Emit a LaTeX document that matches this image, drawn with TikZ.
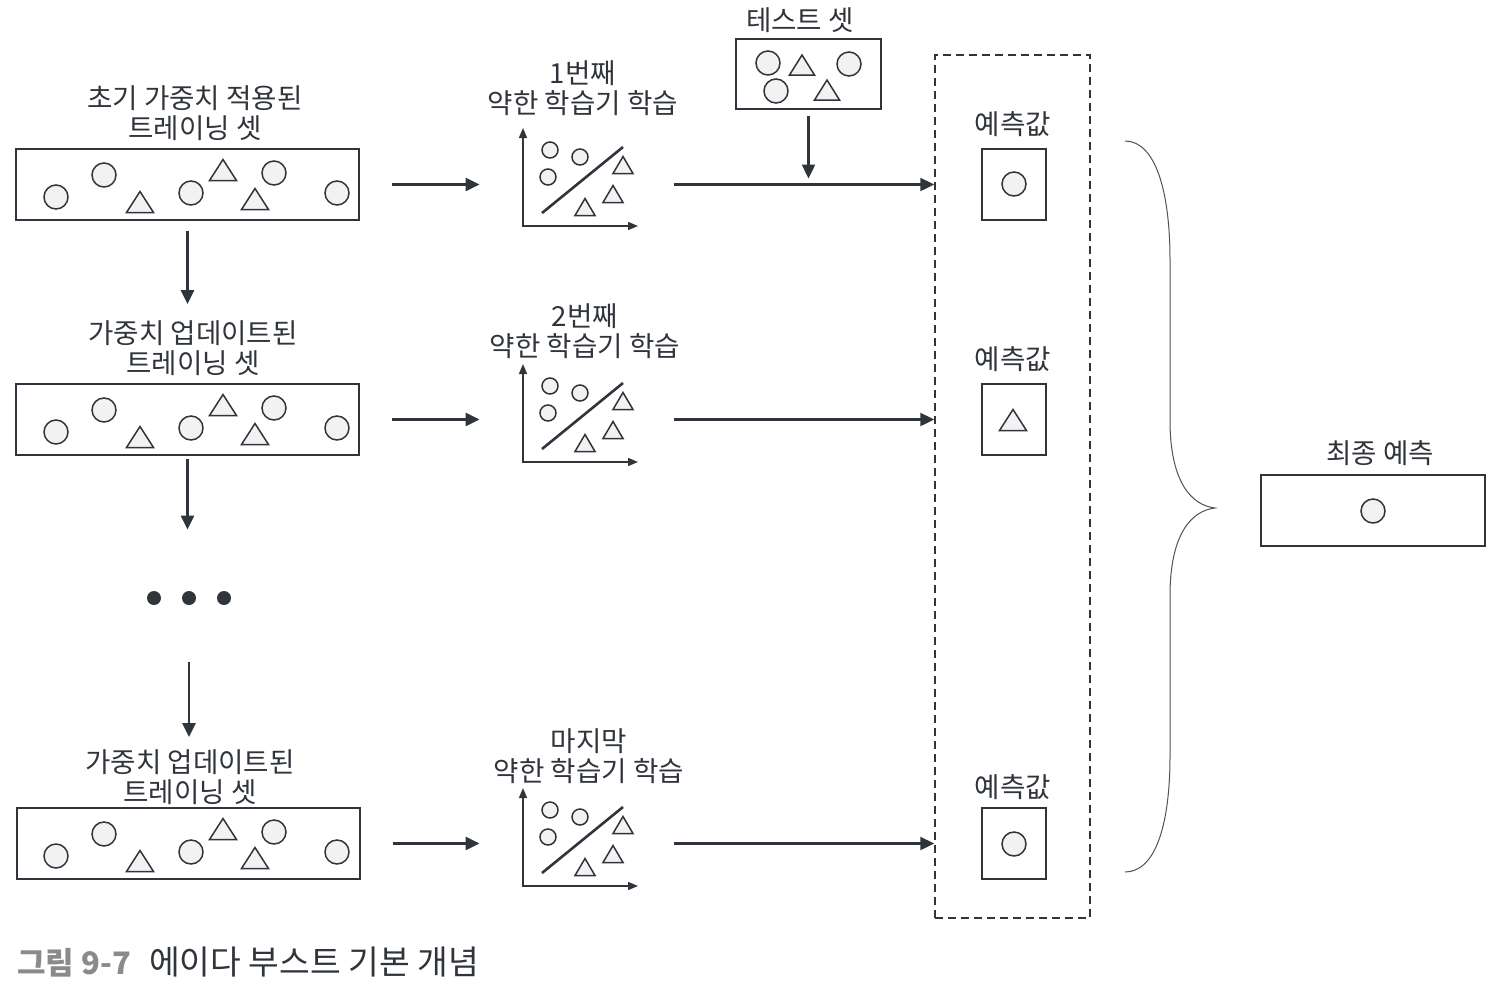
\documentclass[tikz,border=0pt]{standalone}
\usepackage{fontspec}
\setmainfont{Noto Sans CJK KR}
\usepackage{tikz}
\usetikzlibrary{arrows.meta,shapes}
\definecolor{ink}{HTML}{30343B}
\definecolor{pale}{HTML}{F2F2F2}
\definecolor{capgray}{HTML}{8A8A8A}
\newcommand{\linew}{1pt}
\newcommand{\shapew}{0.75pt}
\newcommand{\pcirc}[3]{\draw[figline] (#1,#2) circle (#3);}
\newcommand{\ptri}[4]{\draw[figline] (#1,#2) ++(-#3/2,#4/2) -- ++(#3/2,-#4) -- ++(#3/2,#4) -- cycle;}
\newcommand{\trainmarks}{
    \pcirc{56}{197}{6pt} \pcirc{104}{175}{6pt} \pcirc{191}{193}{6pt}
    \pcirc{274}{173}{6pt} \pcirc{337}{193}{6pt}
    \ptri{140}{202}{27}{21} \ptri{223}{170}{27}{21} \ptri{255}{199}{27}{21}
}
\newcommand{\learnmarks}{
    \draw[axisline] (523,128) -- (523,226) -- (638,226);
    \pcirc{550}{150}{4pt} \pcirc{580}{157}{4pt} \pcirc{548}{177}{4pt}
    \draw[sepline] (542,213) -- (623,147);
    \ptri{623}{165}{20}{17} \ptri{613}{194}{20}{17} \ptri{585}{207}{20}{17}
}

\begin{document}
\begin{tikzpicture}[x=0.5pt,y=-0.5pt,
    lbl/.style={font=\fontsize{13.8}{15}\selectfont, text=ink, align=center, inner sep=0pt},
    setbox/.style={draw=ink, line width=\linew, minimum width=171.5pt, minimum height=35.5pt, inner sep=0pt},
    predbox/.style={setbox, minimum width=32pt},
    plotbox/.style={minimum width=97pt, minimum height=55pt, inner sep=0pt},
    figline/.style={draw=ink, fill=pale, line width=\shapew},
    axisline/.style={draw=ink, line width=\shapew, {Triangle[length=5pt,width=4pt]}-{Triangle[length=5pt,width=4pt]}},
    sepline/.style={draw=ink, line width=1.3pt},
    arrowline/.style={draw=ink, line width=1.2pt, -{Triangle[length=7pt,width=6.5pt]}},
    groupbox/.style={draw=ink, line width=\shapew, dash pattern=on 4pt off 2.5pt, inner sep=0pt}]
    \useasboundingbox (0,0) rectangle (1506,992);

    % training sets
    \node[lbl] (lab1) at (195,113) {초기 가중치 적용된\\트레이닝 셋};
    \node[setbox] (set1) at (187.5,184.5) {};
    \trainmarks
    \node[lbl] (lab2) at (193,348) {가중치 업데이트된\\트레이닝 셋};
    \node[setbox] (set2) at (187.5,419.5) {};
    \begin{scope}[shift={(0,235)}]
        \trainmarks
    \end{scope}
    \node[minimum size=7pt, inner sep=0pt] (dots) at (189,598) {};
    \fill[ink] (154,598) circle (3.5pt) (189,598) circle (3.5pt) (224,598) circle (3.5pt);
    \node[lbl] (lab3) at (190,777) {가중치 업데이트된\\트레이닝 셋};
    \node[setbox] (set3) at (188,843.5) {};
    \begin{scope}[shift={(0,659)}]
        \trainmarks
    \end{scope}

    % weak learners
    \node[lbl] (wl1) at (583,88) {1번째\\약한 학습기 학습};
    \node[plotbox] (learn1) at (577,184.5) {};
    \learnmarks
    \node[lbl] (wl2) at (585,331) {2번째\\약한 학습기 학습};
    \node[plotbox] (learn2) at (577,419.5) {};
    \begin{scope}[shift={(0,236)}]
        \learnmarks
    \end{scope}
    \node[lbl] (wl3) at (589,756) {마지막\\약한 학습기 학습};
    \node[plotbox] (learn3) at (577,843.5) {};
    \begin{scope}[shift={(0,660)}]
        \learnmarks
    \end{scope}

    % test set
    \node[lbl] (testlab) at (800,20) {테스트 셋};
    \node[setbox, minimum width=72.5pt, minimum height=35pt] (test) at (808.5,74) {};
    \pcirc{768}{63}{6pt} \pcirc{849}{64}{6pt} \pcirc{776}{91}{6pt}
    \ptri{802}{65}{25}{20} \ptri{827}{90}{25}{20}

    % predictions
    \node[groupbox, minimum width=77.5pt, minimum height=431.5pt] (grp) at (1012.5,486.5) {};
    \node[lbl] (predlab1) at (1013,124) {예측값};
    \node[predbox] (pred1) at (1014,184.5) {};
    \pcirc{1014}{184}{6pt}
    \node[lbl] (predlab2) at (1013,359) {예측값};
    \node[predbox] (pred2) at (1014,419.5) {};
    \ptri{1013}{420}{27}{21}
    \node[lbl] (predlab3) at (1013,787) {예측값};
    \node[predbox] (pred3) at (1014,843.5) {};
    \pcirc{1014}{844}{6pt}

    % final prediction
    \node[lbl] (finallab) at (1380,453) {최종 예측};
    \node[setbox, minimum width=112pt] (final) at (1373,510.5) {};
    \pcirc{1373}{511}{6pt}
    \draw[ink!85, line width=0.5pt] (1125,141) .. controls (1155,141) and (1170,190) .. (1170,260)
        -- (1170,420) .. controls (1170,480) and (1190,505) .. (1215,508)
        .. controls (1190,511) and (1170,536) .. (1170,596)
        -- (1170,756) .. controls (1170,826) and (1155,872) .. (1125,872);

    % connectors
    \draw[arrowline, shorten <=5pt, shorten >=8pt] (set1.south) -- (set1.south |- lab2.north);
    \draw[arrowline, shorten <=1.5pt, shorten >=30.5pt] (set2.south) -- (set2.south |- dots.north);
    \draw[arrowline, shorten <=28.5pt, shorten >=6pt] (dots.south) -- (dots.south |- lab3.north);
    \draw[arrowline, shorten <=16pt] (set1.east) -- (learn1.west);
    \draw[arrowline, shorten <=16pt] (set2.east) -- (learn2.west);
    \draw[arrowline, shorten <=16pt] (set3.east) -- (learn3.west);
    \draw[arrowline] (learn1.east) -- (learn1.east -| grp.west);
    \draw[arrowline] (learn2.east) -- (learn2.east -| grp.west);
    \draw[arrowline] (learn3.east) -- (learn3.east -| grp.west);
    \draw[arrowline, shorten <=3pt, shorten >=3pt] (test.south) -- (test.south |- learn1.east);

    % caption
    \node[anchor=west, inner sep=0pt, text=ink] (caption) at (17,962)
        {{\fontsize{15.5}{18}\selectfont\bfseries\color{capgray}그림 9-7}\hspace{9pt}{\fontsize{16.7}{18}\selectfont 에이다 부스트 기본 개념}};
\end{tikzpicture}
\end{document}
